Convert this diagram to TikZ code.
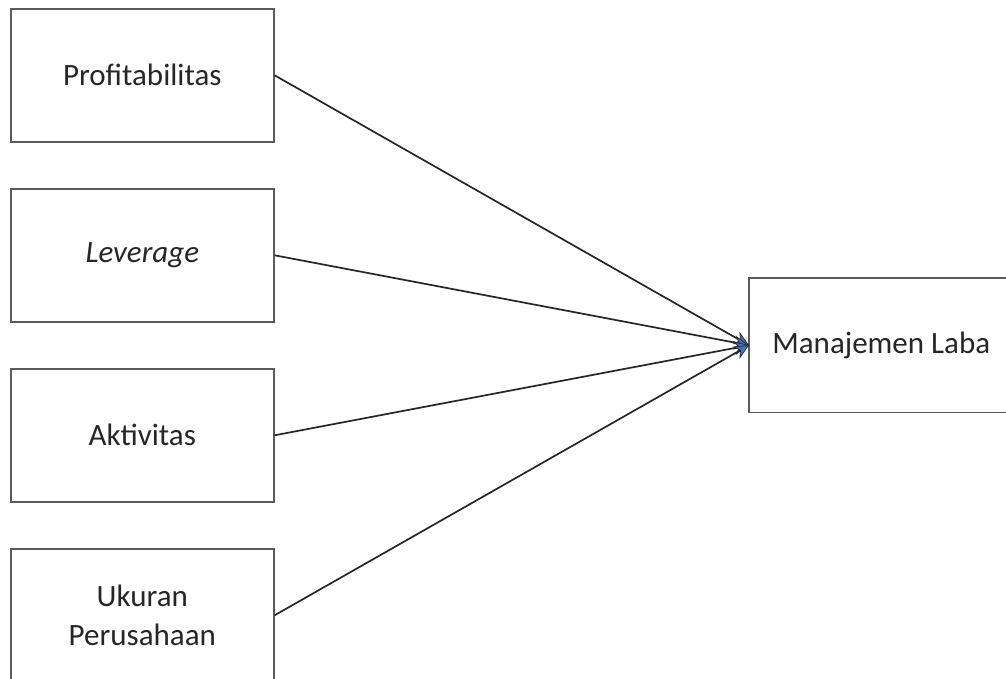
\documentclass[tikz,border=0pt]{standalone}
\usepackage{fontspec}
\setmainfont{Carlito}
\usetikzlibrary{arrows.meta}
\definecolor{boxline}{HTML}{5A5A5A}
\definecolor{arrline}{HTML}{262626}
\definecolor{tipblue}{HTML}{4472C4}
\begin{document}
\begin{tikzpicture}[x=1pt,y=-1pt,
  varbox/.style={draw=boxline,line width=1.6pt,minimum width=263pt,minimum height=133pt,
    inner sep=0pt,font=\fontsize{31}{39}\selectfont\color{black!85},align=center,anchor=north west},
  link/.style={draw=arrline,line width=1.7pt,-{Stealth[length=15pt,width=14pt,fill=tipblue,line width=0.7pt]}}]
\useasboundingbox (0,0) rectangle (1006,679);
\begin{scope}
\clip (0,0) rectangle (1006,679);
\node[varbox] (p) at (10,8) {Profitabilitas};
\node[varbox] (l) at (10,188) {\itshape Leverage};
\node[varbox] (a) at (10,368) {Aktivitas};
\node[varbox] (u) at (10,548) {Ukuran\\Perusahaan};
\node[varbox,draw=none] (m) at (749,278) {Manajemen Laba};
\draw[boxline,line width=1.6pt] (m.north east) -- (m.north west) -- (m.south west) -- (m.south east);
\draw[link] (p.east) -- (m.west);
\draw[link] (l.east) -- (m.west);
\draw[link] (a.east) -- (m.west);
\draw[link] (u.east) -- (m.west);
\end{scope}
\end{tikzpicture}
\end{document}
